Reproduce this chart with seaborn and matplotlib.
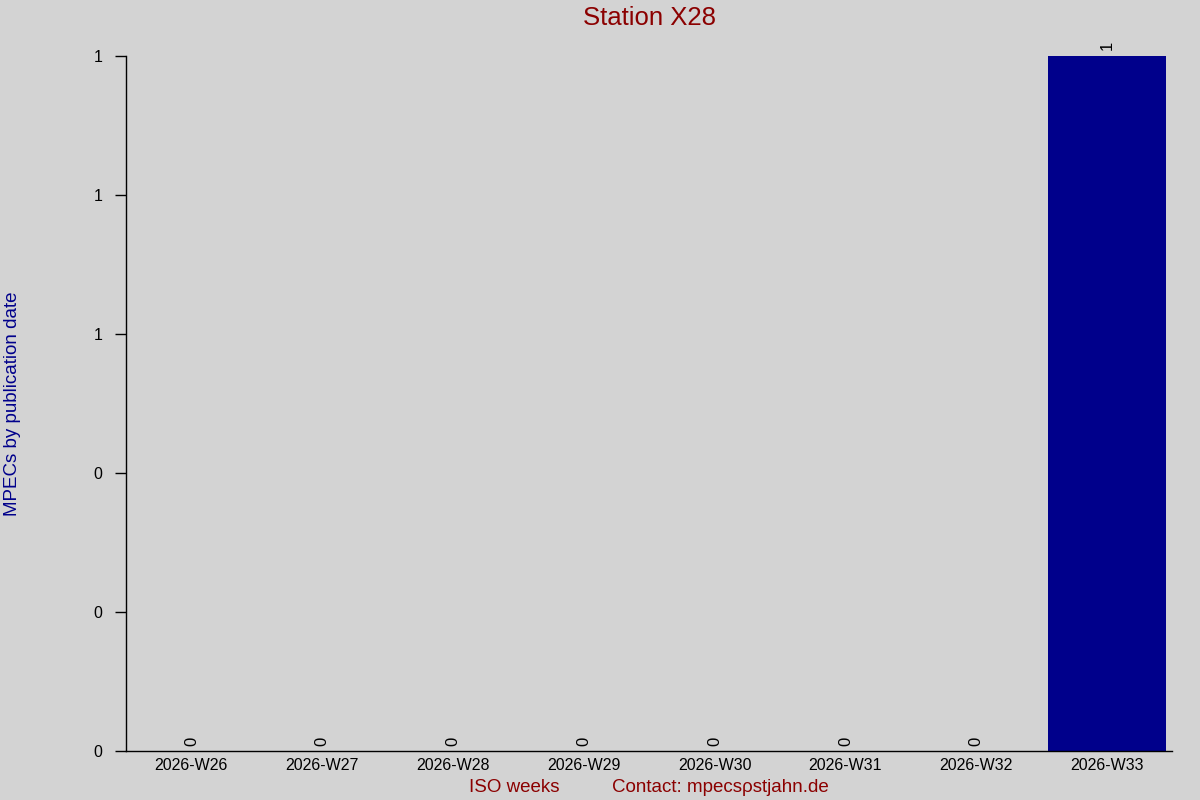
import matplotlib
matplotlib.use("Agg")
import matplotlib.pyplot as plt
import seaborn as sns
import pandas as pd
from matplotlib.ticker import FormatStrFormatter

weeks = ["2026-W26", "2026-W27", "2026-W28", "2026-W29",
         "2026-W30", "2026-W31", "2026-W32", "2026-W33"]
counts = [0, 0, 0, 0, 0, 0, 0, 1]

df = pd.DataFrame({"week": weeks, "count": counts})

sns.set_style("white")
plt.rcParams["font.family"] = ["Liberation Sans", "DejaVu Sans"]

fig = plt.figure(figsize=(12, 8), dpi=100, facecolor="#d3d3d3")
ax = fig.add_axes([0.105, 0.061, 0.872, 0.869])
ax.set_facecolor("#d3d3d3")

sns.barplot(x="week", y="count", data=df, color="#00008b", width=0.9,
            saturation=1, linewidth=0, edgecolor="#00008b", ax=ax)

# value labels on top of the bars
for i, v in enumerate(counts):
    ax.text(i, v + 0.008, str(v), rotation=90, ha="center", va="bottom",
            fontsize=12, color="black")

ax.set_xlim(-0.5, 7.5)
ax.set_ylim(0, 1)
ax.set_yticks([0, 0.2, 0.4, 0.6, 0.8, 1.0])
ax.yaxis.set_major_formatter(FormatStrFormatter("%.0f"))
ax.tick_params(axis="y", left=True, length=8, width=1, labelsize=11.5,
               color="black", labelcolor="black", pad=9)
ax.tick_params(axis="x", bottom=False, length=0, labelsize=11.5,
               labelcolor="black", pad=5)

for s in ["top", "right"]:
    ax.spines[s].set_visible(False)
for s in ["left", "bottom"]:
    ax.spines[s].set_color("black")
    ax.spines[s].set_linewidth(1)

ax.set_xlabel("ISO weeks          Contact: mpecs\u03c1stjahn.de", color="#8b0000",
              fontsize=13.5, labelpad=4)
ax.set_ylabel("MPECs by publication date", color="#00008b", fontsize=13.5)
ax.yaxis.set_label_coords(-0.1, 0.5)
ax.set_title("Station X28", color="#8b0000", fontsize=18.5, pad=22)

fig.savefig("out.png", dpi=100, facecolor=fig.get_facecolor())
